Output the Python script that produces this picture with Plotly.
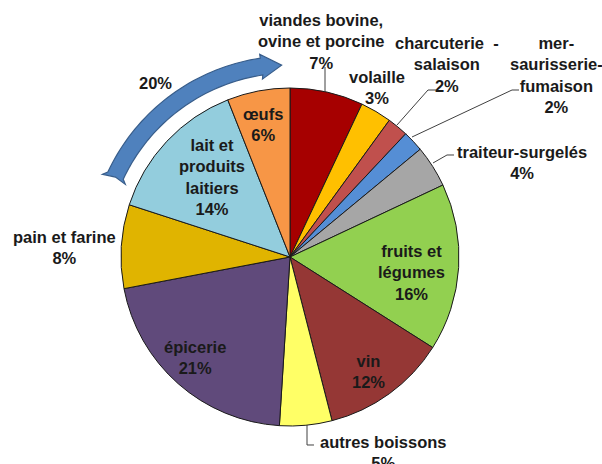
import numpy as np
import plotly.graph_objects as go

# ---------------- data ----------------
categories = ["viandes bovine,<br>ovine et porcine", "volaille", "charcuterie  -<br>salaison",
              "mer-<br>saurisserie-<br>fumaison", "traiteur-surgelés", "fruits et<br>légumes",
              "vin", "autres boissons", "épicerie", "pain et farine",
              "lait et<br>produits<br>laitiers", "œufs"]
values = [7, 3, 2, 2, 4, 16, 12, 5, 21, 8, 14, 6]
colors = ["#A60000", "#FFC000", "#C0504D", "#558ED5", "#A6A6A6", "#92D050",
          "#953735", "#FFFF66", "#604A7B", "#E0B400", "#93CDDD", "#F79646"]
arrow_label = "20%"

W, H = 602, 464
CX, CY, R = 290, 257, 169

def px(x):
    return x / W

def py(y):
    return 1 - y / H

fig = go.Figure()
fig.add_trace(go.Pie(
    labels=[c.replace("<br>", " ") for c in categories],
    values=values,
    sort=False,
    direction="clockwise",
    rotation=0,
    marker=dict(colors=colors, line=dict(color="#1a1a1a", width=1)),
    textinfo="none",
    hoverinfo="label+percent",
    domain=dict(x=[px(CX - R), px(CX + R)], y=[py(CY + R), py(CY - R)]),
    showlegend=False,
))

# label positions (pixel centres of each text block)
label_pos = [(322, 41), (377, 87), (447, 64), (556, 75), (522, 162), (411, 272),
             (368, 371), (383, 452), (195, 357), (64, 247), (212, 177), (263, 125)]

FONT = dict(family="Liberation Sans, Arial, sans-serif", size=16.5, color="#1a1a1a")

annotations = []
for cat, v, (x, y) in zip(categories, values, label_pos):
    annotations.append(dict(
        x=px(x), y=py(y), xref="paper", yref="paper",
        text=f"<b>{cat}<br>{v}%</b>", showarrow=False,
        xanchor="center", yanchor="middle", align="center", font=FONT,
    ))
annotations.append(dict(
    x=px(155), y=py(83), xref="paper", yref="paper", text=f"<b>{arrow_label}</b>",
    showarrow=False, xanchor="center", yanchor="middle", font=FONT,
))

shapes = []
# leader lines (pixel polylines)
leaders = [
    [(325, 67), (325, 92)],
    [(397, 125), (428, 90), (437, 90)],
    [(412, 137), (512, 90), (519, 90)],
    [(433, 163), (447, 155), (454, 155)],
    [(307, 425), (307, 445), (314, 445)],
]
for pts in leaders:
    d = "M " + " L ".join(f"{px(x):.5f},{py(y):.5f}" for x, y in pts)
    shapes.append(dict(type="path", path=d, xref="paper", yref="paper",
                       line=dict(color="#404040", width=1)))

# curved block arrow
def pt(r, deg):
    t = np.deg2rad(deg)
    return (CX + r * np.cos(t), CY - r * np.sin(t))

r_in, r_out = 184, 201
a_tail, a_head = 155, 98.5
pts = []
for a in np.linspace(a_tail, a_head, 40):
    pts.append(pt(r_out, a))
pts.append(pt(205, a_head))
pts.append(pt(192, 92.5))
pts.append(pt(180, a_head + 0.3))
pts.append(pt(r_in, a_head))
for a in np.linspace(a_head, a_tail, 40):
    pts.append(pt(r_in, a))
pts.append(pt(180, a_tail + 1.2))
pts.append(pt(192, a_tail + 0.4))
pts.append(pt(205, a_tail + 1.2))
d = "M " + " L ".join(f"{px(x):.5f},{py(y):.5f}" for x, y in pts) + " Z"
shapes.append(dict(type="path", path=d, xref="paper", yref="paper",
                   fillcolor="#4F81BD", line=dict(color="#385D8A", width=1.2)))

fig.update_layout(
    width=W, height=H,
    margin=dict(l=0, r=0, t=0, b=0),
    paper_bgcolor="white", plot_bgcolor="white",
    annotations=annotations, shapes=shapes,
)
fig.write_html("out.html", config={"displayModeBar": False},
               post_script="document.body.style.margin='0';")
